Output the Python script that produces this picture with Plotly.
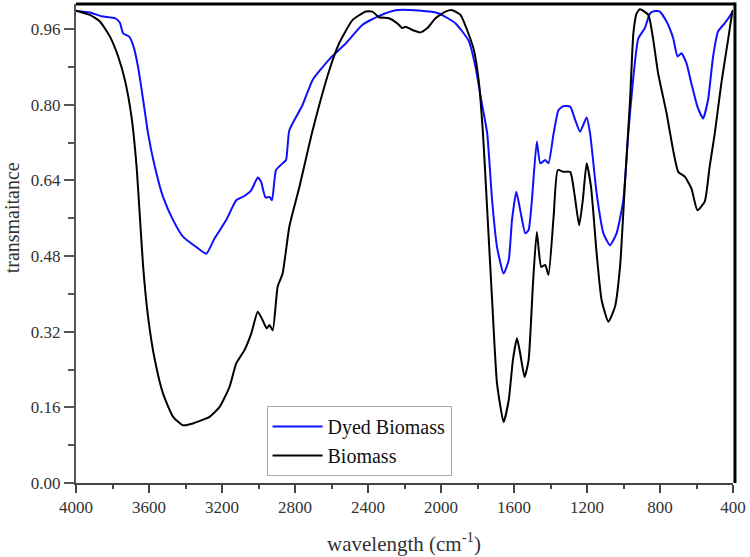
import plotly.graph_objects as go

# Dyed Biomass (blue)
dyed_wn = [4000, 3924, 3860, 3787, 3760, 3742, 3709, 3687, 3660, 3632, 3605, 3568, 3523, 3468,
           3414, 3341, 3286, 3241, 3177, 3122, 3077, 3040, 3004, 2986, 2962, 2940, 2926, 2904,
           2868, 2849, 2831, 2758, 2704, 2612, 2521, 2430, 2339, 2248, 2121, 2012, 1920, 1848,
           1811, 1775, 1747, 1720, 1693, 1657, 1629, 1611, 1587, 1566, 1538, 1520, 1502, 1475,
           1456, 1429, 1411, 1383, 1356, 1329, 1292, 1265, 1238, 1202, 1183, 1147, 1110, 1074,
           1038, 1001, 974, 946, 919, 883, 855, 828, 801, 764, 728, 704, 683, 655, 628, 595,
           564, 537, 509, 482, 446, 405, 400]
dyed_t = [0.999, 0.995, 0.987, 0.983, 0.974, 0.951, 0.944, 0.926, 0.880, 0.810, 0.739, 0.669, 0.605, 0.556,
          0.521, 0.499, 0.485, 0.517, 0.556, 0.598, 0.607, 0.619, 0.646, 0.637, 0.604, 0.605, 0.598, 0.662,
          0.676, 0.683, 0.746, 0.800, 0.852, 0.896, 0.930, 0.969, 0.988, 1.000, 0.999, 0.993, 0.972, 0.935,
          0.880, 0.800, 0.740, 0.598, 0.499, 0.443, 0.471, 0.556, 0.616, 0.577, 0.528, 0.535, 0.598, 0.722,
          0.676, 0.683, 0.676, 0.739, 0.789, 0.797, 0.796, 0.768, 0.743, 0.773, 0.739, 0.612, 0.528, 0.503,
          0.528, 0.598, 0.739, 0.859, 0.940, 0.962, 0.993, 0.998, 0.997, 0.976, 0.941, 0.902, 0.909, 0.888, 0.845, 0.796,
          0.771, 0.810, 0.902, 0.955, 0.972, 0.995, 1.000]

# Biomass (black)
bio_wn = [4000, 3924, 3869, 3814, 3769, 3732, 3696, 3668, 3650, 3632, 3605, 3568, 3523, 3468,
          3414, 3359, 3304, 3268, 3213, 3159, 3122, 3077, 3040, 3004, 2977, 2955, 2940, 2922,
          2895, 2868, 2831, 2776, 2704, 2612, 2558, 2485, 2412, 2376, 2339, 2285, 2239, 2212,
          2194, 2157, 2112, 2075, 2030, 1975, 1939, 1893, 1857, 1820, 1793, 1770, 1750, 1720,
          1693, 1657, 1629, 1606, 1584, 1566, 1542, 1520, 1496, 1475, 1451, 1429, 1411, 1383,
          1360, 1329, 1292, 1269, 1243, 1223, 1202, 1178, 1147, 1120, 1083, 1047, 1019, 992,
          964, 946, 928, 910, 864, 837, 810, 764, 728, 700, 664, 628, 595, 555, 528, 500,
          464, 427, 405, 400]
bio_t = [0.999, 0.990, 0.976, 0.944, 0.902, 0.852, 0.775, 0.669, 0.563, 0.457, 0.351, 0.260, 0.189, 0.140,
         0.122, 0.126, 0.134, 0.140, 0.161, 0.203, 0.253, 0.281, 0.316, 0.362, 0.344, 0.327, 0.334, 0.323,
         0.415, 0.443, 0.542, 0.626, 0.745, 0.873, 0.930, 0.979, 0.997, 0.997, 0.985, 0.983, 0.972, 0.962,
         0.965, 0.958, 0.953, 0.962, 0.983, 0.997, 1.000, 0.990, 0.958, 0.916, 0.850, 0.739, 0.600, 0.387,
         0.210, 0.129, 0.175, 0.260, 0.306, 0.274, 0.224, 0.260, 0.422, 0.531, 0.457, 0.461, 0.440, 0.563,
         0.662, 0.658, 0.658, 0.612, 0.545, 0.598, 0.676, 0.626, 0.485, 0.387, 0.341, 0.372, 0.457, 0.634,
         0.810, 0.951, 0.993, 1.002, 0.990, 0.937, 0.866, 0.782, 0.704, 0.658, 0.648, 0.623, 0.577, 0.595, 0.669, 0.739,
         0.845, 0.937, 0.993, 1.000]

x_ticks = [4000, 3600, 3200, 2800, 2400, 2000, 1600, 1200, 800, 400]
y_ticks = [0.00, 0.16, 0.32, 0.48, 0.64, 0.80, 0.96]
y_labels = [f"{v:.2f}" for v in y_ticks]

SERIF = "Liberation Serif, Times New Roman, serif"

fig = go.Figure()
fig.add_trace(go.Scatter(x=dyed_wn, y=dyed_t, mode="lines", name="Dyed Biomass",
                         line=dict(color="#1010ff", width=2, shape="spline", smoothing=0.5)))
fig.add_trace(go.Scatter(x=bio_wn, y=bio_t, mode="lines", name="Biomass",
                         line=dict(color="#000000", width=2, shape="spline", smoothing=0.5)))

fig.update_layout(
    width=750, height=557,
    margin=dict(l=76, r=15, t=4, b=74),
    paper_bgcolor="white", plot_bgcolor="white",
    font=dict(family=SERIF, color="#333333"),
    showlegend=True,
    legend=dict(x=0.29, y=0.161, xanchor="left", yanchor="top",
                bordercolor="#aaaaaa", borderwidth=1, bgcolor="white",
                font=dict(family=SERIF, size=20, color="#111111"),
                itemwidth=50, tracegroupgap=0),
    xaxis=dict(range=[4000, 400], tickvals=x_ticks, ticktext=[str(v) for v in x_ticks],
               showgrid=False, zeroline=False, showline=True, linecolor="#444444", linewidth=2,
               ticks="outside", ticklen=8, tickwidth=2, tickcolor="#444444",
               minor=dict(dtick=200, ticks="outside", ticklen=4, tickwidth=2, tickcolor="#444444"),
               tickfont=dict(family=SERIF, size=17, color="#333333")),
    yaxis=dict(range=[0, 1.013], tickvals=y_ticks, ticktext=y_labels,
               showgrid=False, zeroline=False, showline=True, linecolor="#555555", linewidth=2,
               ticks="outside", ticklen=10, tickwidth=2, tickcolor="#555555",
               minor=dict(tickvals=[0.08, 0.24, 0.40, 0.56, 0.72, 0.88], ticks="outside", ticklen=6,
                          tickwidth=2, tickcolor="#555555"),
               tickfont=dict(family=SERIF, size=17, color="#333333")),
    shapes=[
        dict(type="line", xref="paper", yref="paper", x0=0, x1=1.003, y0=1, y1=1,
             line=dict(color="black", width=3)),
        dict(type="line", xref="paper", yref="paper", x0=1.003, x1=1.003, y0=0, y1=1.003,
             line=dict(color="black", width=3)),
    ],
    annotations=[
        dict(text="wavelength (cm<sup>-1</sup>)", xref="paper", yref="paper",
             x=(405 - 76) / 659, y=-(542 - 482.7) / 478.7, xanchor="center", yanchor="middle",
             showarrow=False, font=dict(family=SERIF, size=21, color="#333333")),
        dict(text="transmaitance", xref="paper", yref="paper", textangle=-90,
             x=-(76 - 12) / 659, y=(482.7 - 218) / 478.7, xanchor="center", yanchor="middle",
             showarrow=False, font=dict(family=SERIF, size=20, color="#333333")),
    ],
)

fig.write_html("out.html")
